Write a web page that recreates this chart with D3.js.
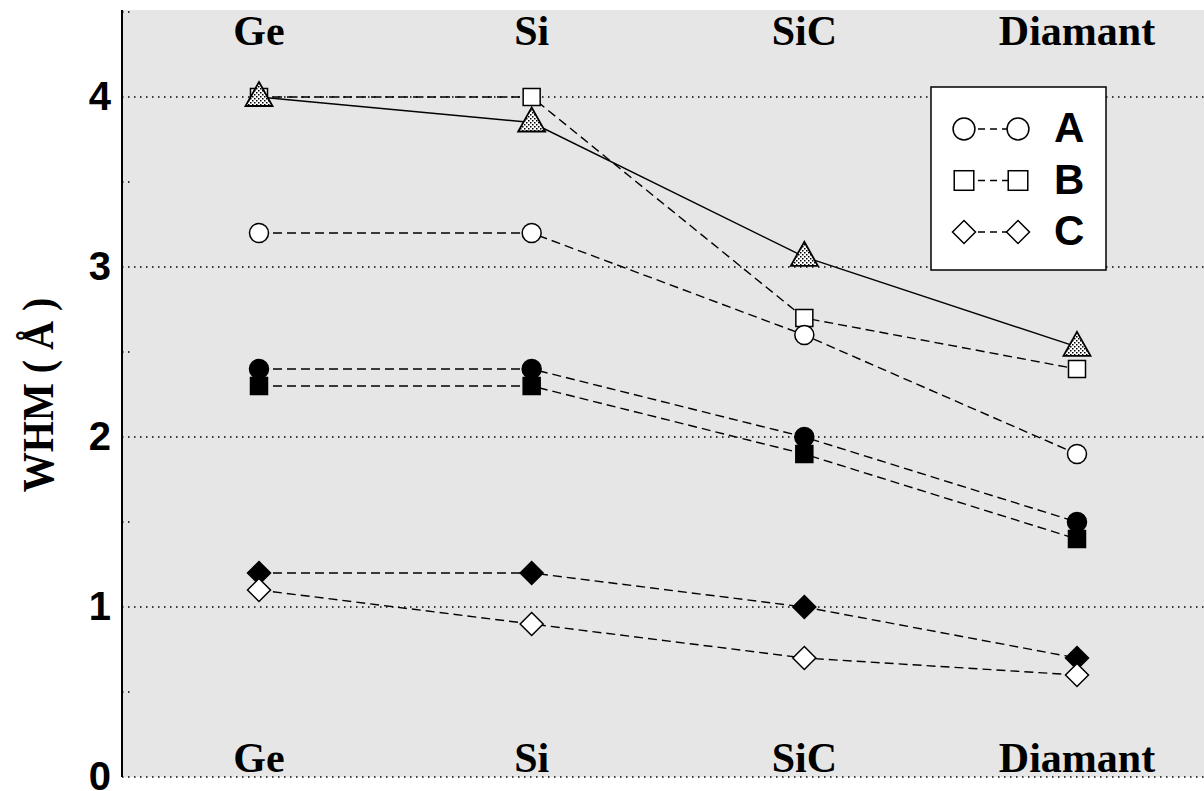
<!DOCTYPE html>
<html>
<head>
<meta charset="utf-8">
<script src="https://cdn.jsdelivr.net/npm/d3@7"></script>
<style>
  body { margin: 0; background: #fff; }
  svg { display: block; }
</style>
</head>
<body>
<svg id="chart" width="1204" height="791"></svg>
<script>
// categories and series values
const materials = ['Ge', 'Si', 'SiC', 'Diamant'];
const yTicks = [0, 1, 2, 3, 4];
const yMinorTicks = [0.5, 1.5, 2.5, 3.5, 4.5];

const openSquare = [4.0, 4.0, 2.7, 2.4];     // B
const openCircle = [3.2, 3.2, 2.6, 1.9];     // A
const filledCircle = [2.4, 2.4, 2.0, 1.5];
const filledSquare = [2.3, 2.3, 1.9, 1.4];
const filledDiamond = [1.2, 1.2, 1.0, 0.7];
const openDiamond = [1.1, 0.9, 0.7, 0.6];    // C
const triangle = [4.0, 3.85, 3.06, 2.53];

const series = [
    { values: openSquare, shape: 'square', fill: '#fff', dash: '9,5' },
    { values: openCircle, shape: 'circle', fill: '#fff', dash: '9,5' },
    { values: filledCircle, shape: 'circle', fill: '#000', dash: '9,5' },
    { values: filledSquare, shape: 'square', fill: '#000', dash: '9,5' },
    { values: filledDiamond, shape: 'diamond', fill: '#000', dash: '9,5' },
    { values: openDiamond, shape: 'diamond', fill: '#fff', dash: '9,5' },
    { values: triangle, shape: 'triangle', fill: 'url(#stipple)', dash: null }
];

const legendItems = [
    { label: 'A', shape: 'circle' },
    { label: 'B', shape: 'square' },
    { label: 'C', shape: 'diamond' }
];

const svg = d3.select('#chart');
const margin = { top: 12, right: 0, bottom: 14, left: 122 };
const W = 1204, H = 791;

const x = d3.scalePoint().domain(materials).range([259, 1077]);
const y = d3.scaleLinear().domain([0, 4.5]).range([H - margin.bottom, margin.top]);

const defs = svg.append('defs');
const pat = defs.append('pattern')
    .attr('id', 'stipple')
    .attr('patternUnits', 'userSpaceOnUse')
    .attr('width', 4).attr('height', 4);
pat.append('rect').attr('width', 4).attr('height', 4).attr('fill', '#fff');
pat.append('rect').attr('x', 0).attr('y', 0).attr('width', 1.5).attr('height', 1.5).attr('fill', '#000');
pat.append('rect').attr('x', 2).attr('y', 2).attr('width', 1.5).attr('height', 1.5).attr('fill', '#000');

// plot background
svg.append('rect')
    .attr('x', margin.left).attr('y', margin.top - 2)
    .attr('width', W - margin.left).attr('height', y(0) - margin.top + 2)
    .attr('fill', '#e6e6e6');

// dotted gridlines
svg.append('g').selectAll('line')
    .data(yTicks)
    .enter().append('line')
    .attr('x1', margin.left).attr('x2', W)
    .attr('y1', d => y(d)).attr('y2', d => y(d))
    .attr('stroke', '#000').attr('stroke-width', 1.3)
    .attr('stroke-dasharray', '1.5,4.5');

// minor ticks
svg.append('g').selectAll('line')
    .data(yMinorTicks)
    .enter().append('line')
    .attr('x1', margin.left).attr('x2', margin.left + 8)
    .attr('y1', d => y(d)).attr('y2', d => y(d))
    .attr('stroke', '#000').attr('stroke-width', 1.3)
    .attr('stroke-dasharray', '1.5,4.5');

// y axis line
svg.append('line')
    .attr('x1', margin.left).attr('x2', margin.left)
    .attr('y1', margin.top - 2).attr('y2', y(0))
    .attr('stroke', '#000').attr('stroke-width', 2);

// tick labels
svg.append('g').selectAll('text')
    .data(yTicks)
    .enter().append('text')
    .attr('x', 111).attr('y', d => y(d) + 13)
    .attr('text-anchor', 'end')
    .style('font-family', 'Liberation Sans, Arial, sans-serif')
    .style('font-weight', 'bold')
    .style('font-size', '40px')
    .text(d => d);

// y title
svg.append('text')
    .attr('transform', `translate(53, 395) rotate(-90) scale(0.89, 1)`)
    .attr('text-anchor', 'middle')
    .style('font-family', 'Liberation Serif, Times New Roman, serif')
    .style('font-weight', 'bold')
    .style('font-size', '45px')
    .style('white-space', 'pre')
    .text('WHM ( Å )');

// category labels, top and bottom
['top', 'bottom'].forEach(pos => {
    svg.append('g').selectAll('text')
        .data(materials)
        .enter().append('text')
        .attr('x', d => x(d))
        .attr('y', pos === 'top' ? 45 : 772)
        .attr('text-anchor', 'middle')
        .style('font-family', 'Liberation Serif, Times New Roman, serif')
        .style('font-weight', 'bold')
        .style('font-size', '42px')
        .text(d => d);
});

function drawMarker(g, shape, cx, cy, fill, big) {
    const k = big ? 1.15 : 1;
    if (shape === 'circle') {
        g.append('circle').attr('cx', cx).attr('cy', cy).attr('r', 9.5 * k)
            .attr('fill', fill).attr('stroke', '#000').attr('stroke-width', 1.5);
    } else if (shape === 'square') {
        const h = 8.5 * k;
        g.append('rect').attr('x', cx - h).attr('y', cy - h).attr('width', 2 * h).attr('height', 2 * h)
            .attr('fill', fill).attr('stroke', '#000').attr('stroke-width', 1.5);
    } else if (shape === 'diamond') {
        const h = 11.5;
        g.append('path')
            .attr('d', `M${cx},${cy - h}L${cx + h},${cy}L${cx},${cy + h}L${cx - h},${cy}Z`)
            .attr('fill', fill).attr('stroke', '#000').attr('stroke-width', 1.5);
    } else if (shape === 'triangle') {
        g.append('path')
            .attr('d', `M${cx},${cy - 15}L${cx + 13.5},${cy + 9}L${cx - 13.5},${cy + 9}Z`)
            .attr('fill', fill).attr('stroke', '#000').attr('stroke-width', 1.8);
    }
}

const line = d3.line()
    .x((d, i) => x(materials[i]))
    .y(d => y(d));

series.forEach(s => {
    const g = svg.append('g');
    g.append('path')
        .attr('d', line(s.values))
        .attr('fill', 'none')
        .attr('stroke', '#000')
        .attr('stroke-width', 1.4)
        .attr('stroke-dasharray', s.dash);
    s.values.forEach((v, i) => drawMarker(g, s.shape, x(materials[i]), y(v), s.fill, false));
});

// legend
const lg = svg.append('g');
lg.append('rect')
    .attr('x', 931).attr('y', 87).attr('width', 175).attr('height', 183)
    .attr('fill', '#fff').attr('stroke', '#000').attr('stroke-width', 1.5);
legendItems.forEach((d, i) => {
    const cy = 129 + i * 51.5;
    lg.append('line')
        .attr('x1', 964).attr('x2', 1018).attr('y1', cy).attr('y2', cy)
        .attr('stroke', '#000').attr('stroke-width', 1.4)
        .attr('stroke-dasharray', '7,5').attr('stroke-dashoffset', -14);
    drawMarker(lg, d.shape, 964, cy, '#fff', true);
    drawMarker(lg, d.shape, 1018, cy, '#fff', true);
    lg.append('text')
        .attr('x', 1054).attr('y', cy + 13)
        .style('font-family', 'Liberation Sans, Arial, sans-serif')
        .style('font-weight', 'bold')
        .style('font-size', '42px')
        .text(d.label);
});
</script>
</body>
</html>
